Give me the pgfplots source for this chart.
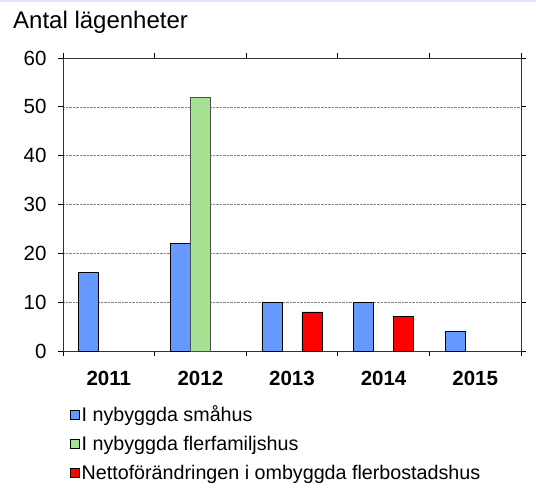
\documentclass[border=0pt]{standalone}
\usepackage{pgfplots}
\pgfplotsset{compat=1.18}
\usepackage{fontspec}
\setmainfont{Liberation Sans}
\definecolor{cblue}{RGB}{102,153,255}
\definecolor{cgreen}{RGB}{166,226,148}
\definecolor{cred}{RGB}{255,0,0}
\begin{document}
\begin{tikzpicture}
\path[use as bounding box] (0,0) rectangle (536pt,-490pt);
\fill[blue!12] (0,0) rectangle (536pt,-1.5pt);
\node[anchor=base west, inner sep=0pt, font=\fontsize{24}{28}\selectfont] at (13pt,-28pt) {Antal lägenheter};
\begin{axis}[
  at={(63pt,-351pt)}, anchor=south west,
  scale only axis, width=458pt, height=293pt,
  xmin=-0.5, xmax=4.5, ymin=0, ymax=60,
  ytick={0,10,...,60},
  xtick={0,1,2,3,4},
  xticklabels={2011,2012,2013,2014,2015},
  minor xtick={-0.5,0.5,1.5,2.5,3.5,4.5},
  major x tick style={draw=none},
  minor x tick style={black, line width=0.8pt},
  tick align=outside,
  major tick length=5pt, minor tick length=5pt,
  ytick style={black, line width=0.8pt},
  ymajorgrids,
  grid style={gray, densely dotted, line width=0.6pt},
  axis line style={black!80, line width=0.9pt},
  /pgf/number format/assume math mode=true,
  yticklabel style={font=\fontsize{20.5}{24}\selectfont, xshift=-8pt},
  xticklabel style={font=\fontsize{20.5}{24}\selectfont\bfseries, yshift=-12pt},
  ybar, bar width=20pt,
  legend style={at={(0.015,-0.18)}, anchor=north west, draw=none, fill=none,
    font=\fontsize{19.7}{23}\selectfont, row sep=9pt, inner sep=0pt,
    /tikz/every even column/.append style={column sep=3pt}},
  legend cell align=left,
  legend image code/.code={\draw[#1, draw=black, line width=0.6pt] (0pt,-4.5pt) rectangle (9pt,4.5pt);},
]
\addplot[fill=cblue, draw=black, line width=0.8pt, bar shift=-20pt] coordinates {(0,16) (1,22) (2,10) (3,10) (4,4)};
\addlegendentry{I nybyggda småhus}
\addplot[fill=cgreen, draw=black!70, line width=0.8pt, bar shift=0pt] coordinates {(1,52)};
\addlegendentry{I nybyggda flerfamiljshus}
\addplot[fill=cred, draw=black, line width=0.8pt, bar shift=20pt] coordinates {(2,8) (3,7)};
\addlegendentry{Nettoförändringen i ombyggda flerbostadshus}
\end{axis}
\end{tikzpicture}
\end{document}
